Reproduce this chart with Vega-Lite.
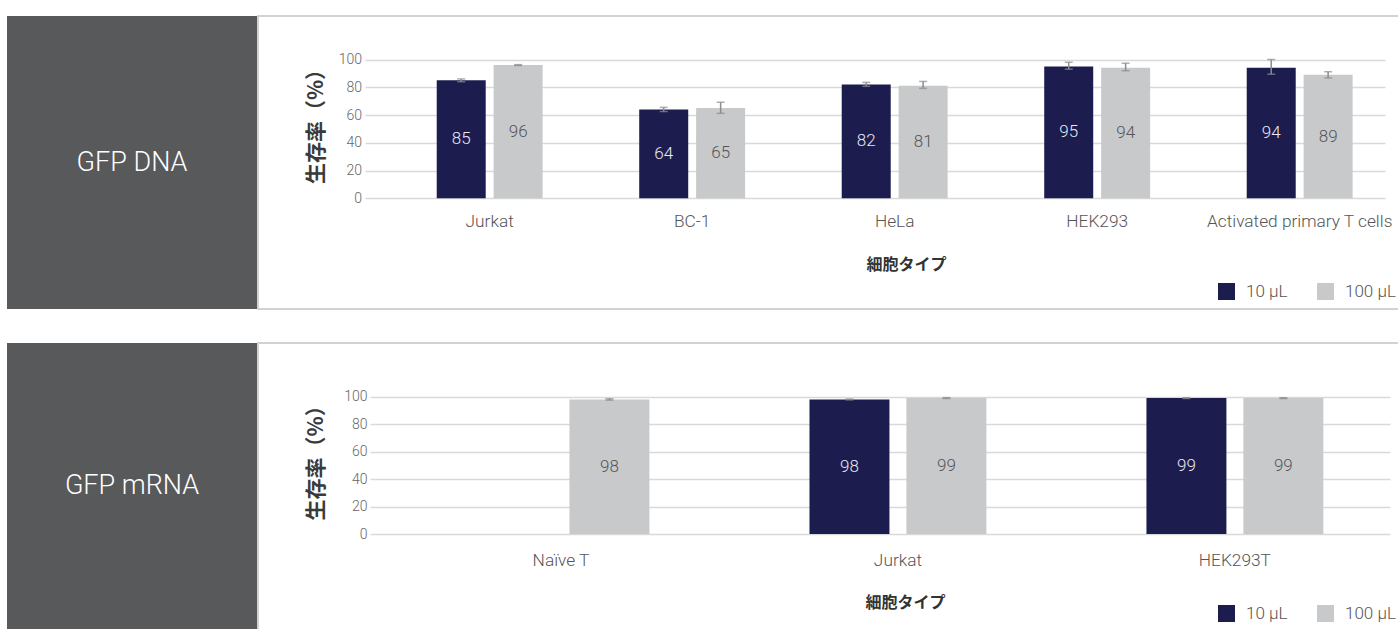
{
  "$schema": "https://vega.github.io/schema/vega-lite/v6.json",
  "padding": {"left": 7, "top": 15, "right": 0, "bottom": 0},
  "background": "white",
  "spacing": 32,
  "resolve": {"scale": {"color": "independent", "xOffset": "independent"}, "legend": {"color": "independent"}},
  "config": {
    "view": {"stroke": null},
    "font": "Roboto",
    "text": {"font": "Roboto"},
    "axis": {"labelFont": "Roboto", "labelFontWeight": 300}
  },
  "datasets": {
    "dna": [
      {"cell": "Jurkat", "series": "10 µL", "value": 85, "lo": 84, "hi": 86},
      {"cell": "Jurkat", "series": "100 µL", "value": 96, "lo": 95.7, "hi": 96.3},
      {"cell": "BC-1", "series": "10 µL", "value": 64, "lo": 62.5, "hi": 65.5},
      {"cell": "BC-1", "series": "100 µL", "value": 65, "lo": 61.2, "hi": 69.2},
      {"cell": "HeLa", "series": "10 µL", "value": 82, "lo": 80.7, "hi": 83.5},
      {"cell": "HeLa", "series": "100 µL", "value": 81, "lo": 79.2, "hi": 84.2},
      {"cell": "HEK293", "series": "10 µL", "value": 95, "lo": 93, "hi": 98},
      {"cell": "HEK293", "series": "100 µL", "value": 94, "lo": 91.9, "hi": 97.3},
      {"cell": "Activated primary T cells", "series": "10 µL", "value": 94, "lo": 89.4, "hi": 100},
      {"cell": "Activated primary T cells", "series": "100 µL", "value": 89, "lo": 86.7, "hi": 91.2}
    ],
    "mrna": [
      {"cell": "Naïve T", "series": "100 µL", "value": 98, "lo": 97.5, "hi": 98.5},
      {"cell": "Jurkat", "series": "10 µL", "value": 98, "lo": 97.7, "hi": 98.3},
      {"cell": "Jurkat", "series": "100 µL", "value": 99, "lo": 98.7, "hi": 99.3},
      {"cell": "HEK293T", "series": "10 µL", "value": 99, "lo": 98.7, "hi": 99.3},
      {"cell": "HEK293T", "series": "100 µL", "value": 99, "lo": 98.7, "hi": 99.3}
    ]
  },
  "vconcat": [
    {
      "spacing": 0,
      "resolve": {"scale": {"color": "independent", "xOffset": "independent"}, "legend": {"color": "independent"}},
      "hconcat": [
        {
          "width": 250,
          "height": 293,
          "view": {"fill": "#58595b", "stroke": null},
          "data": {"values": [{"label": "GFP DNA"}]},
          "mark": {"type": "text", "color": "#ffffff", "fontSize": 27, "font": "Roboto", "fontWeight": 300},
          "encoding": {"text": {"field": "label"}}
        },
        {
          "width": 1140,
          "height": 293,
          "view": {"fill": "#ffffff", "stroke": "#d2d2d2", "strokeWidth": 2, "strokeDash": [1140, 293, 1433]},
          "data": {"name": "dna"},
          "encoding": {
            "x": {
              "field": "cell",
              "type": "nominal",
              "sort": ["Jurkat", "BC-1", "HeLa", "HEK293", "Activated primary T cells"],
              "scale": {"range": [107, 1127], "paddingInner": 0.477, "paddingOuter": 0.257, "align": 0.689, "round": false},
              "axis": {
                "orient": "bottom", "offset": -110.7, "domain": false, "ticks": false, "tickSize": 0, "grid": false,
                "labelPadding": 14, "labelFontSize": 17.3, "labelColor": "#555555", "labelAngle": 0, "labelOverlap": false,
                "labelLimit": 400,
                "title": "細胞タイプ", "titleFont": "Noto Sans CJK JP", "titleFontSize": 16, "titleFontWeight": "bold",
                "titleColor": "#333333", "titleX": 648, "titleY": 66, "titleBaseline": "middle", "titleAlign": "center"
              }
            },
            "xOffset": {"field": "series", "type": "nominal", "sort": ["10 µL", "100 µL"], "scale": {"paddingInner": 0.139, "paddingOuter": 0}}
          },
          "layer": [
            {
              "layer": [
                {
                  "mark": {"type": "bar"},
                  "encoding": {
                    "y": {
                      "field": "value", "type": "quantitative",
                      "scale": {"domain": [0, 100], "range": [182.3, 43.5], "nice": false},
                      "axis": {
                        "values": [0, 20, 40, 60, 80, 100], "offset": -107, "domain": false, "ticks": false, "tickSize": 0,
                        "labelPadding": 3.5, "labelFontSize": 14, "labelColor": "#666666",
                        "grid": true, "gridColor": "#d9d9d9", "gridWidth": 1.5,
                        "title": "生存率（%）", "titleFont": "Noto Sans CJK JP", "titleFontSize": 21, "titleFontWeight": "bold",
                        "titleColor": "#3a3a3a", "titlePadding": 12, "titleY": 105
                      }
                    },
                    "color": {
                      "field": "series", "type": "nominal",
                      "scale": {"domain": ["10 µL", "100 µL"], "range": ["#1c1d4e", "#c8c9cb"]},
                      "legend": {
                        "orient": "none", "legendX": 960, "legendY": 267, "direction": "horizontal", "title": null,
                        "symbolType": "square", "symbolSize": 289, "symbolStrokeWidth": 0, "labelFontSize": 17,
                        "labelOffset": 11, "columnPadding": 29, "labelColor": "#555555", "labelFont": "Roboto",
                        "labelFontWeight": 300, "padding": 0
                      }
                    }
                  }
                },
                {
                  "mark": {"type": "rule", "color": "#8c8c8c", "strokeWidth": 1.5},
                  "encoding": {"y": {"field": "lo", "type": "quantitative"}, "y2": {"field": "hi"}}
                },
                {
                  "mark": {"type": "tick", "orient": "horizontal", "color": "#8c8c8c", "size": 8, "thickness": 1.5},
                  "encoding": {"y": {"field": "lo", "type": "quantitative"}}
                },
                {
                  "mark": {"type": "tick", "orient": "horizontal", "color": "#8c8c8c", "size": 8, "thickness": 1.5},
                  "encoding": {"y": {"field": "hi", "type": "quantitative"}}
                }
              ]
            },
            {
              "mark": {"type": "text", "fontSize": 17, "font": "Roboto", "fontWeight": 300, "baseline": "middle"},
              "encoding": {
                "y": {"field": "value", "type": "quantitative", "scale": {"domain": [0, 200], "range": [182.3, 43.5], "nice": false}, "axis": null},
                "text": {"field": "value", "type": "quantitative"},
                "color": {"condition": {"test": "datum.series === '10 µL'", "value": "#e8e9f2"}, "value": "#555555"}
              }
            }
          ],
          "resolve": {"scale": {"y": "independent"}, "axis": {"y": "independent"}}
        }
      ]
    },
    {
      "spacing": 0,
      "resolve": {"scale": {"color": "independent", "xOffset": "independent"}, "legend": {"color": "independent"}},
      "hconcat": [
        {
          "width": 250,
          "height": 286,
          "view": {"fill": "#58595b", "stroke": null},
          "data": {"values": [{"label": "GFP mRNA"}]},
          "mark": {"type": "text", "color": "#ffffff", "fontSize": 27, "font": "Roboto", "fontWeight": 300},
          "encoding": {"text": {"field": "label"}}
        },
        {
          "width": 1140,
          "height": 286,
          "view": {"fill": "#ffffff", "stroke": "#d2d2d2", "strokeWidth": 2, "strokeDash": [1140, 1426, 286]},
          "data": {"name": "mrna"},
          "encoding": {
            "x": {
              "field": "cell",
              "type": "nominal",
              "sort": ["Naïve T", "Jurkat", "HEK293T"],
              "scale": {"range": [112, 1132], "paddingInner": 0.475, "paddingOuter": 0.251, "align": 0.606, "round": false},
              "axis": {
                "orient": "bottom", "offset": -95, "domain": false, "ticks": false, "tickSize": 0, "grid": false,
                "labelPadding": 17.7, "labelFontSize": 17.3, "labelColor": "#555555", "labelAngle": 0, "labelOverlap": false,
                "labelLimit": 400,
                "title": "細胞タイプ", "titleFont": "Noto Sans CJK JP", "titleFontSize": 16, "titleFontWeight": "bold",
                "titleColor": "#333333", "titleX": 647, "titleY": 68, "titleBaseline": "middle", "titleAlign": "center"
              }
            },
            "xOffset": {"field": "series", "type": "nominal", "sort": ["10 µL", "100 µL"], "scale": {"paddingInner": 0.175, "paddingOuter": 0}}
          },
          "layer": [
            {
              "layer": [
                {
                  "mark": {"type": "bar"},
                  "encoding": {
                    "y": {
                      "field": "value", "type": "quantitative",
                      "scale": {"domain": [0, 100], "range": [191, 53.7], "nice": false},
                      "axis": {
                        "values": [0, 20, 40, 60, 80, 100], "offset": -112, "domain": false, "ticks": false, "tickSize": 0,
                        "labelPadding": 3, "labelFontSize": 14, "labelColor": "#666666",
                        "grid": true, "gridColor": "#d9d9d9", "gridWidth": 1.5,
                        "title": "生存率（%）", "titleFont": "Noto Sans CJK JP", "titleFontSize": 21, "titleFontWeight": "bold",
                        "titleColor": "#3a3a3a", "titlePadding": 17, "titleY": 114.4
                      }
                    },
                    "color": {
                      "field": "series", "type": "nominal",
                      "scale": {"domain": ["10 µL", "100 µL"], "range": ["#1c1d4e", "#c8c9cb"]},
                      "legend": {
                        "orient": "none", "legendX": 960, "legendY": 262, "direction": "horizontal", "title": null,
                        "symbolType": "square", "symbolSize": 289, "symbolStrokeWidth": 0, "labelFontSize": 17,
                        "labelOffset": 11, "columnPadding": 29, "labelColor": "#555555", "labelFont": "Roboto",
                        "labelFontWeight": 300, "padding": 0
                      }
                    }
                  }
                },
                {
                  "mark": {"type": "rule", "color": "#8c8c8c", "strokeWidth": 1.5},
                  "encoding": {"y": {"field": "lo", "type": "quantitative"}, "y2": {"field": "hi"}}
                },
                {
                  "mark": {"type": "tick", "orient": "horizontal", "color": "#8c8c8c", "size": 8, "thickness": 1.5},
                  "encoding": {"y": {"field": "lo", "type": "quantitative"}}
                },
                {
                  "mark": {"type": "tick", "orient": "horizontal", "color": "#8c8c8c", "size": 8, "thickness": 1.5},
                  "encoding": {"y": {"field": "hi", "type": "quantitative"}}
                }
              ]
            },
            {
              "mark": {"type": "text", "fontSize": 17, "font": "Roboto", "fontWeight": 300, "baseline": "middle"},
              "encoding": {
                "y": {"field": "value", "type": "quantitative", "scale": {"domain": [0, 200], "range": [191, 53.7], "nice": false}, "axis": null},
                "text": {"field": "value", "type": "quantitative"},
                "color": {"condition": {"test": "datum.series === '10 µL'", "value": "#e8e9f2"}, "value": "#555555"}
              }
            }
          ],
          "resolve": {"scale": {"y": "independent"}, "axis": {"y": "independent"}}
        }
      ]
    }
  ]
}
